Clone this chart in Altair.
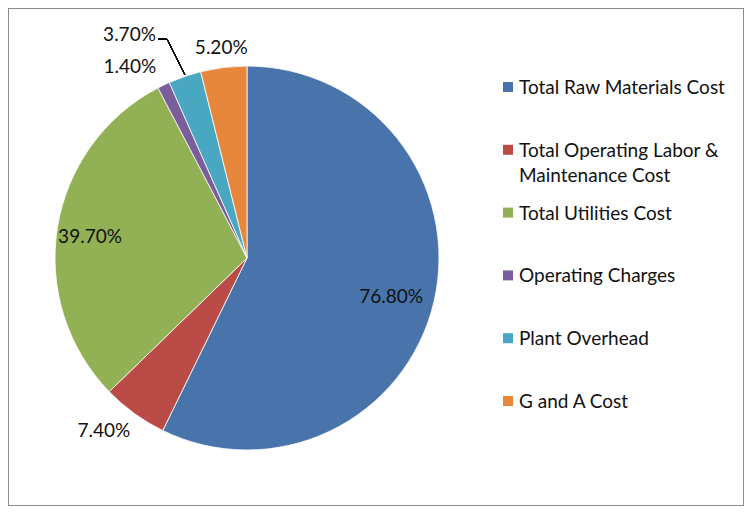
import altair as alt
import pandas as pd

categories = ["Total Raw Materials Cost", "Total Operating Labor & Maintenance Cost",
              "Total Utilities Cost", "Operating Charges", "Plant Overhead", "G and A Cost"]
legend_labels = ["Total Raw Materials Cost", "Total Operating Labor &\nMaintenance Cost",
                 "Total Utilities Cost", "Operating Charges", "Plant Overhead", "G and A Cost"]
values = [76.8, 7.4, 39.7, 1.4, 3.7, 5.2]
colors = ["#4874AB", "#BA4B47", "#92B054", "#7A5E9C", "#4AA7C2", "#E6873C"]

df = pd.DataFrame({
    "cat": categories,
    "legend": legend_labels,
    "value": values,
    "idx": list(range(len(categories))),
})
total = sum(values)

CX, CY, R = 239, 250, 192
FONT = "Lato"
FS = 19

theta_scale = alt.Scale(domain=[0, total])
color = alt.Color("cat:N", scale=alt.Scale(domain=categories, range=colors), legend=None)

base = alt.Chart(df)

pie = base.mark_arc(radius=R, stroke="white", strokeWidth=0.8).encode(
    theta=alt.Theta("value:Q", stack=True, scale=theta_scale),
    color=color,
    order=alt.Order("idx:Q"),
    x=alt.value(CX),
    y=alt.value(CY),
)

lab_base = base.transform_window(
    cum="sum(value)", sort=[alt.SortField("idx")]
).transform_calculate(
    mid="datum.cum - datum.value / 2",
    txt="format(datum.value, '.2f') + '%'",
)


def label(cat, r, dx=0, dy=0):
    return lab_base.transform_filter(alt.datum.cat == cat).mark_text(
        radius=r, dx=dx, dy=dy, font=FONT, fontSize=FS, color="#111111",
        align="center", baseline="middle",
    ).encode(
        theta=alt.Theta("mid:Q", scale=theta_scale, stack=None),
        text="txt:N",
        x=alt.value(CX),
        y=alt.value(CY),
    )


labels = [
    label(categories[0], 148, 0, 6),
    label(categories[1], 215, -17, -1),
    label(categories[2], 159, 0, 4),
    label(categories[3], 212, -25, 0),
    label(categories[4], 236, -41, 0),
    label(categories[5], 212, 0, 0),
]

leader = alt.layer(
    alt.Chart(df).mark_rule(color="#000000", strokeWidth=1).encode(
        x=alt.value(150), x2=alt.value(159), y=alt.value(31), y2=alt.value(31)),
    alt.Chart(df).mark_rule(color="#000000", strokeWidth=1).encode(
        x=alt.value(159), x2=alt.value(177), y=alt.value(31), y2=alt.value(67)),
)

legend_y = alt.Y("cat:N", sort=categories,
                 scale=alt.Scale(domain=categories, range=[79, 393], padding=0),
                 axis=None)

leg_sym = base.mark_square(size=100, opacity=1).encode(
    y=legend_y,
    x=alt.value(500),
    color=color,
)

leg_txt = base.mark_text(
    align="left", baseline="alphabetic", dy=7, font=FONT, fontSize=FS,
    color="#111111", lineBreak="\n", lineHeight=25,
).encode(
    y=legend_y,
    x=alt.value(511),
    text="legend:N",
)

chart = alt.layer(pie, *labels, leader, leg_sym, leg_txt).properties(
    width=736, height=498,
    autosize=alt.AutoSizeParams(type="none"),
    padding=0,
).configure_view(stroke="#8A8A8A", strokeWidth=2)

chart.save("out.html", embed_options={"renderer": "svg", "actions": False})
